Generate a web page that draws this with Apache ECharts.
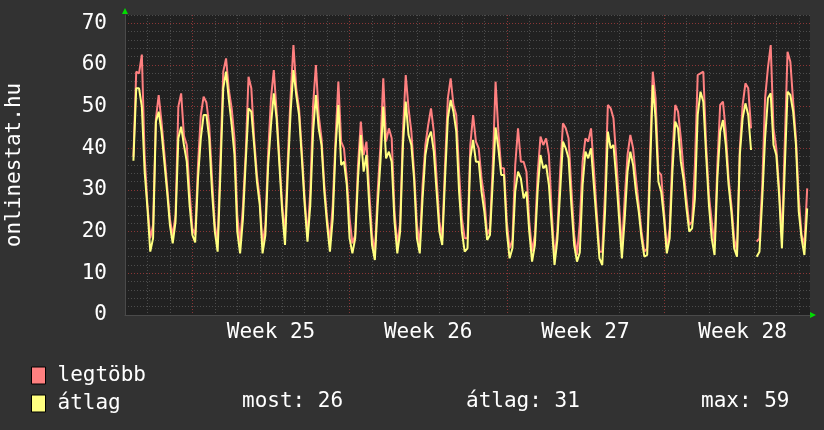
<!DOCTYPE html>
<html>
<head>
<meta charset="utf-8">
<script src="https://cdn.jsdelivr.net/npm/echarts@6/dist/echarts.min.js"></script>
<style>
  html, body { margin: 0; padding: 0; background: #323232; }
  #chart { width: 824px; height: 430px; }
</style>
</head>
<body>
<div id="chart"></div>
<script>
// samples every 3 hours, hour 0 = first midnight on the graph
const startHour = -15;
const stepHours = 3;

const maxValues = [
  38, 58.4, 58, 62.5, 38, 26.4, 18.4, 21.6, 47, 52.8,
  46.4, 39, 31, 23, 19, 24, 50, 53.2, 43, 40.8,
  29.6, 20.8, 19.2, 36, 48, 52.4, 51, 45.6, 32.8, 21.6,
  17.6, 38, 58.4, 61.6, 54, 49.6, 42.4, 24, 17.2, 26,
  39, 57.2, 54.4, 42.4, 33.6, 28, 16.8, 21.6, 39, 52,
  58.8, 48.8, 37.6, 26.4, 19.2, 37.6, 52.8, 64.8, 54.4, 49.6,
  39.2, 28, 18.8, 29.6, 50.4, 60, 48, 42.4, 31.2, 23.2,
  17.6, 26.4, 42.4, 56, 41.6, 40, 32.8, 23.2, 17.2, 19.2,
  36, 46.4, 38.4, 41.6, 29.6, 19.2, 14.8, 29.6, 40.8, 56.8,
  41.6, 44.8, 42.4, 24.8, 16.8, 22, 44, 57.6, 49.6, 44,
  34, 21.6, 16.8, 31.2, 40.8, 45.6, 49.6, 44, 32.8, 22.4,
  18.4, 36, 52, 56.8, 50.4, 48, 34.4, 23.2, 18.4, 18.4,
  40.8, 48, 41.6, 40, 32.8, 28, 19.2, 20.8, 36, 56,
  44, 35.2, 35.2, 22.4, 16, 18, 36, 44.8, 36.8, 36.8,
  34.4, 22.4, 15.2, 19.2, 34, 42.8, 40.8, 42.4, 38.4, 24.8,
  13.6, 20, 34.4, 46, 44.8, 42.4, 30.4, 19.2, 14.4, 22,
  36.8, 42.4, 41.6, 44.8, 35.2, 24.8, 15.2, 15.2, 29.6, 50.4,
  49.6, 47.2, 37.6, 26.4, 16, 28, 38.4, 43.2, 40, 32.8,
  26.4, 20, 15.2, 16, 38.4, 58.4, 52, 34.4, 33.6, 24.8,
  16, 20.8, 38.4, 50.4, 48.8, 42.4, 34.4, 28, 21.6, 22.4,
  36, 57.6, 58, 58.4, 40.8, 28.8, 22.4, 16.8, 36, 50.4,
  51.2, 44, 32.8, 26.4, 18.4, 15.2, 40, 50.4, 55.6, 54.4,
  44.8, null, 17.6, 18.4, 31.2, 52, 59.2, 64.8, 44.8, 40,
  30.4, 18.4, 41, 63.2, 60.8, 51.2, 42.4, 28, 19.2, 16.8, 30.4
];

const avgValues = [
  37, 54.4, 54.4, 50, 34.4, 25.6, 15.2, 18.4, 46.4, 48.8,
  44, 36.8, 29.6, 21.6, 17.2, 22.4, 42.4, 45.2, 40.8, 36.8,
  26.4, 19.2, 17.4, 32.8, 42.4, 48, 48, 42.4, 29.6, 20,
  15.2, 34.4, 54.4, 58.4, 51.6, 45.6, 38.4, 20, 14.8, 23,
  36.8, 49.6, 48.8, 40.8, 32, 26.4, 14.8, 19.2, 36, 45.6,
  53.2, 47.2, 36, 24.8, 16.8, 34.4, 48.8, 58.8, 52.8, 48,
  37.6, 26.4, 17.6, 26.4, 44, 52.8, 44.8, 40.8, 29.6, 21.6,
  15.2, 23.2, 40, 50.4, 36, 36.8, 31.2, 18.4, 14.8, 18.4,
  32.8, 43.2, 34.4, 38.4, 26.4, 16.8, 13.2, 26.4, 36.8, 50,
  37.6, 39.2, 36.8, 22.4, 14.8, 20, 40.8, 51.2, 43.2, 40.8,
  32.4, 18.4, 14.8, 28, 38.4, 42.4, 44, 39.2, 29.6, 20,
  16.8, 32.8, 47.2, 51.6, 48.8, 44, 29.6, 20, 15.2, 16,
  37.6, 42, 36.8, 36.8, 29.6, 24.8, 18, 19.2, 32, 45,
  40, 33.6, 33.6, 20, 13.6, 16, 29.6, 34.4, 32.8, 28,
  29.6, 20, 12.8, 16.8, 30, 38.4, 35.2, 36, 31.2, 21.6,
  12, 18, 29.6, 41.6, 40, 37.6, 26.4, 16.8, 12.8, 15,
  31.2, 39.2, 37.6, 40, 31.2, 22.4, 13.6, 12, 24.8, 44,
  40, 40.8, 32.8, 23.2, 13.6, 23.2, 34.4, 39.2, 36, 29.6,
  24.8, 18.4, 14, 14.4, 34.4, 55.2, 47.2, 32, 29.6, 23.2,
  14.8, 18.4, 34.4, 46.4, 44.8, 36.8, 32.4, 25.6, 20, 20.8,
  28, 48, 53.6, 51.2, 38.4, 26.4, 18.4, 14.4, 32.8, 44,
  46.8, 40.8, 31.2, 24.8, 16, 14, 38.4, 47.2, 50.8, 48,
  39.6, null, 14, 15.2, 28, 42.4, 52, 53.2, 40.8, 38.4,
  28.8, 16, 35, 53.6, 52.8, 48.8, 40.8, 24.8, 18.4, 14.4, 25.6
];

const weekCenters = [132, 300, 468, 636];
const weekLabels = ["Week 25", "Week 26", "Week 27", "Week 28"];
const yLabelValues = [0, 10, 20, 30, 40, 50, 60, 70];
const seriesNames = ["legtöbb", "átlag"];
const statLabels = ["most: 26", "átlag: 31", "max: 59"];

const FONT = '"DejaVu Sans Mono", monospace';
const RED = "#ff8080";
const YELLOW = "#ffff80";
const MINOR = "#4c4c4c";
const MAJOR = "#8a3636";

const toPairs = (values) => values.map((v, i) => [startHour + i * stepHours, v]);

const chart = echarts.init(document.getElementById("chart"), null, { renderer: "canvas" });

chart.setOption({
  backgroundColor: "#323232",
  animation: false,
  textStyle: { fontFamily: FONT },
  grid: {
    left: 125,
    top: 15,
    width: 685,
    height: 300,
    outerBoundsMode: "none",
    containLabel: false,
    show: true,
    backgroundColor: "#212121",
    borderWidth: 0,
  },
  xAxis: {
    type: "value",
    min: -24,
    max: 708,
    interval: 24,
    axisLine: { show: true, onZero: false, lineStyle: { color: "#4a4a4a", width: 1 } },
    axisTick: { show: false },
    axisLabel: {
      customValues: weekCenters,
      formatter: (v) => weekLabels[weekCenters.indexOf(v)] || "",
      color: "#ffffff",
      fontFamily: FONT,
      fontSize: 21,
      margin: 7,
    },
    splitLine: {
      show: true,
      showMaxLine: false,
      lineStyle: {
        color: [MINOR, MINOR, MINOR, MAJOR, MINOR, MINOR, MINOR],
        type: [1, 2],
        width: 1,
      },
    },
  },
  yAxis: {
    type: "value",
    min: 0,
    max: 72,
    interval: 2,
    name: "onlinestat.hu",
    nameLocation: "middle",
    nameGap: 100,
    nameTextStyle: { color: "#ffffff", fontFamily: FONT, fontSize: 21 },
    axisLine: { show: true, onZero: false, lineStyle: { color: "#4a4a4a", width: 1 } },
    axisTick: { show: false },
    axisLabel: {
      customValues: yLabelValues,
      color: "#ffffff",
      fontFamily: FONT,
      fontSize: 21,
      margin: 18,
      padding: [9, 0, 0, 0],
    },
    splitLine: {
      show: true,
      lineStyle: {
        color: [MAJOR, MINOR, MINOR, MINOR, MINOR],
        type: [1, 2],
        width: 1,
      },
    },
  },
  legend: {
    orient: "vertical",
    left: 26,
    top: 360,
    icon: "rect",
    itemWidth: 14,
    itemHeight: 17,
    itemGap: 7,
    itemStyle: { borderColor: "#000000", borderWidth: 1 },
    textStyle: { color: "#ffffff", fontFamily: FONT, fontSize: 21, padding: [0, 0, 0, 7] },
    data: seriesNames,
  },
  series: [
    {
      name: seriesNames[0],
      type: "line",
      data: toPairs(maxValues),
      showSymbol: false,
      connectNulls: false,
      color: RED,
      lineStyle: { color: RED, width: 2 },
    },
    {
      name: seriesNames[1],
      type: "line",
      data: toPairs(avgValues),
      showSymbol: false,
      connectNulls: false,
      color: YELLOW,
      lineStyle: { color: YELLOW, width: 2 },
    },
  ],
  graphic: [
    { type: "polygon", shape: { points: [[122, 14], [128, 14], [125, 8]] }, style: { fill: "#00dd00" } },
    { type: "polygon", shape: { points: [[810, 312], [810, 318], [816, 315]] }, style: { fill: "#00dd00" } },
    ...statLabels.map((text, i) => ({
      type: "text",
      x: [242, 466, 701][i],
      y: 402,
      style: { text, fill: "#ffffff", font: "21px " + FONT, verticalAlign: "middle" },
    })),
  ],
});
</script>
</body>
</html>
